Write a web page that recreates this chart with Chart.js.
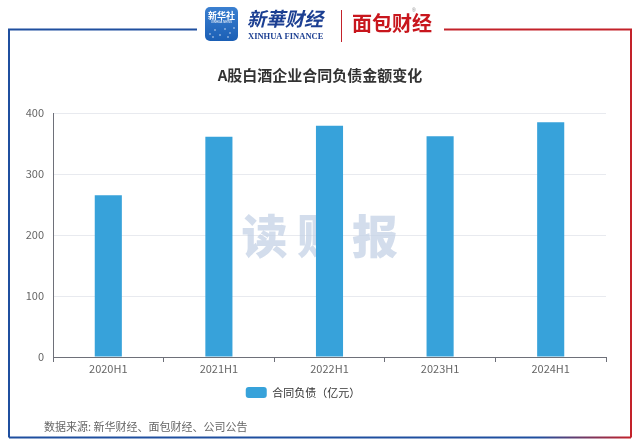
<!DOCTYPE html>
<html><head><meta charset="utf-8">
<script src="https://cdn.jsdelivr.net/npm/chart.js@4.4.1/dist/chart.umd.min.js"></script>
<style>
html,body{margin:0;padding:0;background:#fff;}
#wrap{position:relative;width:640px;height:448px;}
canvas{display:block;}
</style></head>
<body><div id="wrap"><canvas id="c" width="640" height="448"></canvas></div>
<script>
const categories = ['2020H1','2021H1','2022H1','2023H1','2024H1'];
const contractLiabilities = [265, 361, 379, 362, 385];
const seriesName = '合同负债（亿元）';
const yTicks = [0, 100, 200, 300, 400];
const titleText = 'A股白酒企业合同负债金额变化';
const sourceText = '数据来源: 新华财经、面包财经、公司公告';
const watermarkText = '读财报';

const FONT = '"Noto Sans CJK SC", "Noto Sans", sans-serif';
const BLUE = '#1f4f9f', RED = '#c3222a';

const decor = {
  id: 'decor',
  beforeDraw(chart) {
    const ctx = chart.ctx;
    ctx.save();
    ctx.fillStyle = '#fff';
    ctx.fillRect(0, 0, chart.width, chart.height);
    // frame
    ctx.lineWidth = 2;
    ctx.strokeStyle = BLUE;
    ctx.beginPath(); ctx.moveTo(197, 29.5); ctx.lineTo(9, 29.5); ctx.lineTo(9, 437.5); ctx.stroke();
    ctx.strokeStyle = RED;
    ctx.beginPath(); ctx.moveTo(444, 29.5); ctx.lineTo(631, 29.5); ctx.lineTo(631, 437.5); ctx.stroke();
    const g = ctx.createLinearGradient(9, 0, 631, 0);
    g.addColorStop(0, BLUE); g.addColorStop(0.85, BLUE); g.addColorStop(1, RED);
    ctx.strokeStyle = g;
    ctx.beginPath(); ctx.moveTo(9, 437.5); ctx.lineTo(631, 437.5); ctx.stroke();
    // Xinhua icon
    const ig = ctx.createLinearGradient(0, 7, 0, 41);
    ig.addColorStop(0, '#3a7fd0'); ig.addColorStop(1, '#1b5fb5');
    ctx.fillStyle = ig;
    ctx.beginPath(); ctx.roundRect(205, 7, 33, 34, 5); ctx.fill();
    ctx.fillStyle = '#fff';
    ctx.font = 'bold 9px ' + FONT; ctx.textAlign = 'center'; ctx.textBaseline = 'middle';
    ctx.fillText('新华社', 221.5, 15.5);
    ctx.font = '3px sans-serif'; ctx.fillText('XINHUA NEWS', 221.5, 22);
    ctx.fillStyle = 'rgba(255,255,255,0.8)';
    [[210,34],[215,30],[220,35],[225,29],[230,33],[234,28],[213,37],[228,37]].forEach(p=>{ctx.beginPath();ctx.arc(p[0],p[1],0.8,0,Math.PI*2);ctx.fill();});
    // 新华财经
    ctx.fillStyle = '#1c3f92';
    ctx.font = 'italic bold 19px ' + FONT; ctx.textAlign = 'left'; ctx.textBaseline = 'middle';
    ctx.fillText('新華财经', 247, 19);
    ctx.font = 'bold 8.5px "Liberation Serif", serif';
    ctx.fillText('XINHUA FINANCE', 248, 37);
    // divider
    ctx.strokeStyle = RED; ctx.lineWidth = 1;
    ctx.beginPath(); ctx.moveTo(341.5, 10); ctx.lineTo(341.5, 42); ctx.stroke();
    // 面包财经
    ctx.fillStyle = '#c8161d';
    ctx.font = 'bold 20px ' + FONT;
    ctx.fillText('面包财经', 352, 23);
    ctx.font = '5px sans-serif'; ctx.fillStyle = '#888';
    ctx.fillText('®', 412, 11);
    // title
    ctx.fillStyle = '#333';
    ctx.font = 'bold 15px ' + FONT; ctx.textAlign = 'center';
    ctx.fillText(titleText, 320, 75);
    // footer
    ctx.fillStyle = '#666';
    ctx.font = '11px ' + FONT; ctx.textAlign = 'left';
    ctx.fillText(sourceText, 44, 427);
    ctx.restore();
  },
  beforeDatasetsDraw(chart) {
    const ctx = chart.ctx;
    ctx.save();
    ctx.fillStyle = 'rgba(196,210,230,0.75)';
    ctx.font = '900 46px ' + FONT;
    ctx.textAlign = 'center'; ctx.textBaseline = 'middle';
    const xs = [264.5, 320, 375];
    [...watermarkText].forEach((ch, i) => ctx.fillText(ch, xs[i], 236));
    ctx.restore();
  }
};

new Chart(document.getElementById('c'), {
  type: 'bar',
  data: {
    labels: categories,
    datasets: [{
      label: seriesName,
      data: contractLiabilities,
      backgroundColor: '#37a2da',
      borderWidth: 0,
      barPercentage: 0.245,
      categoryPercentage: 1
    }]
  },
  options: {
    responsive: false,
    animation: false,
    devicePixelRatio: 1,
    layout: { padding: { left: 0, right: 34, top: 113, bottom: 40 } },
    plugins: {
      title: { display: false },
      tooltip: { enabled: false },
      legend: {
        position: 'bottom',
        labels: {
          boxWidth: 21, boxHeight: 11, padding: 10,
          color: '#333',
          font: { family: FONT, size: 11 },
          useBorderRadius: true, borderRadius: 3
        }
      }
    },
    scales: {
      x: {
        grid: { display: true, drawOnChartArea: false, drawTicks: true, tickLength: 5, color: '#6e7079', offset: true },
        border: { display: true, color: '#6e7079' },
        ticks: { color: '#666', font: { family: FONT, size: 11 }, padding: 0 },
        afterFit(s) { s.height = 20; }
      },
      y: {
        min: 0, max: 400,
        afterBuildTicks(s) { s.ticks = yTicks.map(v => ({ value: v })); },
        grid: { color: '#e8eaef', drawTicks: false },
        border: { display: true, color: '#6e7079' },
        ticks: { color: '#666', font: { family: FONT, size: 11 }, padding: 9 },
        afterFit(s) { s.width = 53; }
      }
    }
  },
  plugins: [decor]
});
</script></body></html>
